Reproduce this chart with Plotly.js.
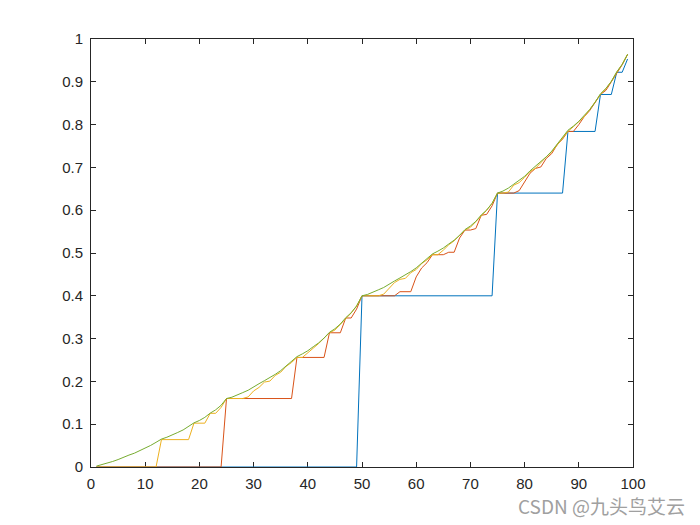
<!DOCTYPE html>
<html>
<head>
<meta charset="utf-8">
<script src="https://cdn.plot.ly/plotly-3.0.1.min.js"></script>
<style>
html,body{margin:0;padding:0;background:#fff;}
#chart{width:700px;height:525px;}
</style>
</head>
<body>
<div id="chart"></div>
<script>
// Capital (state) values
const capital = [1,2,3,4,5,6,7,8,9,10,11,12,13,14,15,16,17,18,19,20,21,22,23,24,25,26,27,28,29,30,31,32,33,34,35,36,37,38,39,40,41,42,43,44,45,46,47,48,49,50,51,52,53,54,55,56,57,58,59,60,61,62,63,64,65,66,67,68,69,70,71,72,73,74,75,76,77,78,79,80,81,82,83,84,85,86,87,88,89,90,91,92,93,94,95,96,97,98,99];

// Value estimates, sweep 1
const sweep1 = [0,0,0,0,0,0,0,0,0,0,0,0,0,0,0,0,0,0,0,0,0,0,0,0,0,0,0,0,0,0,0,0,0,0,0,0,0,0,0,0,0,0,0,0,0,0,0,0,0,
0.4,0.4,0.4,0.4,0.4,0.4,0.4,0.4,0.4,0.4,0.4,0.4,0.4,0.4,0.4,0.4,0.4,0.4,0.4,0.4,0.4,0.4,0.4,0.4,0.4,
0.64,0.64,0.64,0.64,0.64,0.64,0.64,0.64,0.64,0.64,0.64,0.64,0.64,
0.784,0.784,0.784,0.784,0.784,0.784,
0.8704,0.8704,0.8704,
0.92224,0.92224,
0.953344];

// Sweep 2
const sweep2 = [0,0,0,0,0,0,0,0,0,0,0,0,0,0,0,0,0,0,0,0,0,0,0,0,
0.16,0.16,0.16,0.16,0.16,0.16,0.16,0.16,0.16,0.16,0.16,0.16,0.16,
0.256,0.256,0.256,0.256,0.256,0.256,
0.3136,0.3136,0.3136,
0.34816,0.34816,
0.368896,
0.4,0.4,0.4,0.4,0.4,0.4,0.4,
0.4096,0.4096,0.4096,
0.44416,0.464896,0.477338,
0.496,0.496,0.496,
0.50176,0.50176,
0.534938,0.5536,0.5536,0.557056,0.58816,0.590234,0.61014,
0.64,0.64,0.64,0.64,
0.64576,0.666496,0.686403,0.6976,0.701056,0.720963,0.73216,0.752896,0.766084,
0.784,0.784,
0.799898,0.81856,0.832578,0.851738,0.8704,0.879939,0.899547,0.92224,0.939728,0.963837];

// Sweep 3
const sweep3 = [0,0,0,0,0,0,0,0,0,0,0,0,
0.064,0.064,0.064,0.064,0.064,0.064,
0.1024,0.1024,0.1024,
0.12544,0.12544,0.139264,
0.16,0.16,0.16,0.16,
0.16384,0.177664,0.185958,0.1984,0.200704,0.213975,0.22144,0.235264,0.244056,
0.256,0.256,0.266598,0.27904,0.288385,0.301158,0.3136,0.319959,0.333031,0.34816,0.359819,0.375891,
0.4,0.4,0.4,0.4,
0.40384,0.417664,0.430935,0.4384,0.440704,0.453975,0.46144,0.475264,0.484056,
0.496,0.496,0.506598,0.51904,0.528385,0.541158,0.5536,0.559959,0.573031,0.58816,0.599819,0.615891,
0.64,0.64,0.642304,0.658561,0.664422,0.676864,0.690434,0.6976,0.711424,0.724695,0.735975,0.752896,0.769535,
0.784,0.795137,0.806118,0.81856,0.834817,0.851738,0.8704,0.883671,0.90089,0.92224,0.940534,0.96432];

// Final value function
const finalValue = [0.002066,0.005164,0.009226,0.01291,0.017386,0.023064,0.027814,0.032275,0.037685,0.043464,
0.050354,0.057659,0.065239,0.069535,0.074431,0.080688,0.086611,0.094212,0.103144,0.108659,
0.115967,0.125886,0.13358,0.144149,0.16,0.163098,0.167746,0.173838,0.179365,0.186078,
0.194596,0.201721,0.208413,0.216528,0.225195,0.235531,0.246489,0.257859,0.264303,0.271647,
0.281033,0.289917,0.301319,0.314716,0.322988,0.33395,0.348829,0.36037,0.376222,0.4,
0.403098,0.407746,0.413838,0.419365,0.426078,0.434596,0.441721,0.448413,0.456527,0.465195,
0.475532,0.486489,0.497859,0.504303,0.511647,0.521033,0.529917,0.541319,0.554715,0.562988,
0.57395,0.588829,0.60037,0.616222,0.64,0.644648,0.651619,0.660758,0.669048,0.679117,
0.691893,0.702582,0.71262,0.724792,0.737793,0.753297,0.769733,0.786789,0.796455,0.80747,
0.821549,0.834875,0.851978,0.872073,0.884482,0.900925,0.923244,0.940555,0.964333];

const xTicks = [0,10,20,30,40,50,60,70,80,90,100];
const yTicks = [0,0.1,0.2,0.3,0.4,0.5,0.6,0.7,0.8,0.9,1];
const yTickText = ['0','0.1','0.2','0.3','0.4','0.5','0.6','0.7','0.8','0.9','1'];

const series = [
  {y: sweep1, color: '#0072BD'},
  {y: sweep2, color: '#D95319'},
  {y: sweep3, color: '#EDB120'},
  {y: finalValue, color: '#77AC30'}
];

const traces = series.map(s => ({
  type: 'scatter', mode: 'lines', x: capital, y: s.y,
  line: {color: s.color, width: 1}, hoverinfo: 'skip'
}));

const axisCommon = {
  showgrid: false, zeroline: false, showline: true, mirror: 'ticks',
  linecolor: '#262626', linewidth: 1, ticks: 'inside', ticklen: 5,
  tickcolor: '#262626', tickwidth: 1,
  tickfont: {family: 'Liberation Sans, Arial, sans-serif', size: 15, color: '#262626'},
  layer: 'below traces'
};

const layout = {
  width: 700, height: 525,
  margin: {l: 91, r: 67, t: 39, b: 58},
  paper_bgcolor: '#ffffff', plot_bgcolor: '#ffffff',
  showlegend: false,
  xaxis: Object.assign({}, axisCommon, {range: [0, 100], tickvals: xTicks, ticktext: xTicks.map(String), ticklabelstandoff: 3}),
  yaxis: Object.assign({}, axisCommon, {range: [0, 1], tickvals: yTicks, ticktext: yTickText, ticklabelstandoff: 4}),
  annotations: [{
    xref: 'paper', yref: 'paper', x: 1.1, y: -0.09, xanchor: 'right', yanchor: 'middle',
    text: 'CSDN @九头鸟艾云', showarrow: false,
    font: {family: 'Noto Sans CJK SC, sans-serif', size: 19, color: '#a0a0a0'}
  }]
};

Plotly.newPlot('chart', traces, layout, {displayModeBar: false, staticPlot: true});
</script>
</body>
</html>
